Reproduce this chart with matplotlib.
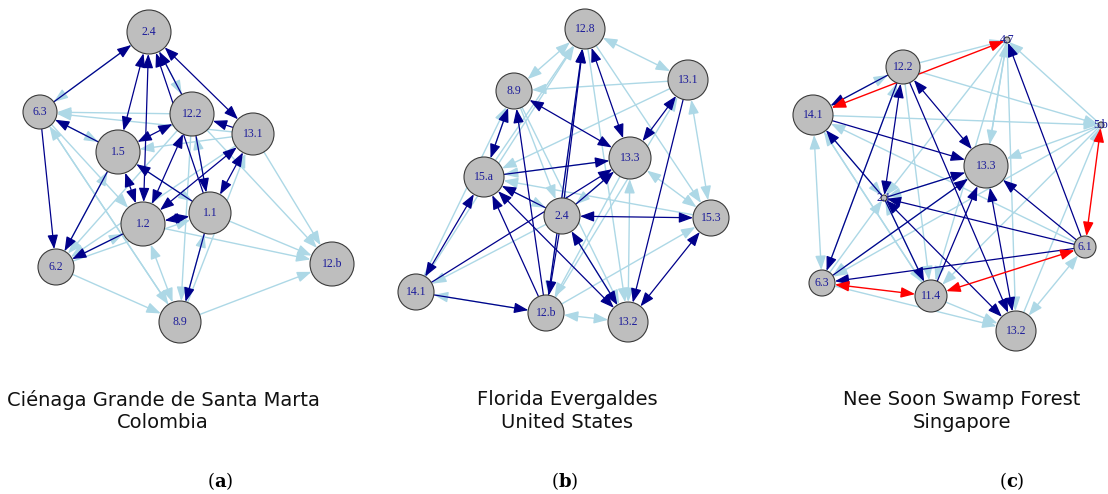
import numpy as np
import matplotlib.pyplot as plt
from matplotlib.patches import Circle, FancyArrowPatch

plt.rcParams['mathtext.fontset'] = 'dejavuserif'

# colours used by the network plots
edge_colors = {'d': '#00008B', 'l': '#ADD8E6', 'r': '#FF0000'}
node_fill = '#BEBEBE'
label_color = '#1C1C9A'

# ---- panel (a): Ciénaga Grande de Santa Marta ----
nodes_a = ['2.4', '6.3', '12.2', '13.1', '1.5', '1.2', '1.1', '6.2', '12.b', '8.9']
layout_a = {'2.4': (149, 32), '6.3': (40, 112), '12.2': (192, 114), '13.1': (253, 134),
            '1.5': (118, 152), '1.2': (143, 224), '1.1': (210, 213), '6.2': (56, 267),
            '12.b': (332, 264), '8.9': (180, 322)}
size_a = {'2.4': 22, '6.3': 17, '12.2': 22, '13.1': 21, '1.5': 22, '1.2': 22,
          '1.1': 21, '6.2': 18, '12.b': 22, '8.9': 21}
# (from, to, kind, both ways)
edges_a = [
    ('2.4', '6.3', 'l', False), ('12.2', '6.3', 'l', False), ('13.1', '6.3', 'l', False),
    ('6.3', '1.5', 'l', False), ('13.1', '1.5', 'l', False), ('6.3', '8.9', 'l', False),
    ('8.9', '6.3', 'l', False), ('6.2', '1.5', 'l', False), ('6.2', '1.2', 'l', False),
    ('6.2', '1.1', 'l', False), ('12.2', '6.2', 'l', False), ('13.1', '6.2', 'l', False),
    ('6.2', '8.9', 'l', False), ('8.9', '12.b', 'l', False), ('1.2', '12.b', 'l', False),
    ('1.1', '12.b', 'l', False), ('12.2', '12.b', 'l', False), ('13.1', '12.b', 'l', False),
    ('8.9', '1.2', 'l', True), ('8.9', '1.1', 'l', False), ('12.2', '8.9', 'l', False),
    ('8.9', '13.1', 'l', False), ('1.1', '12.2', 'l', False), ('1.5', '1.1', 'l', False),
    ('2.4', '12.2', 'l', False), ('6.3', '1.2', 'l', False),
    ('6.3', '2.4', 'd', False), ('1.5', '2.4', 'd', True), ('1.2', '2.4', 'd', True),
    ('12.2', '2.4', 'd', False), ('1.1', '2.4', 'd', False), ('2.4', '13.1', 'd', True),
    ('6.3', '6.2', 'd', False), ('1.5', '12.2', 'd', True), ('1.5', '1.2', 'd', True),
    ('12.2', '1.2', 'd', True), ('12.2', '1.1', 'd', False), ('13.1', '1.2', 'd', True),
    ('13.1', '1.1', 'd', True), ('1.1', '1.5', 'd', False), ('1.1', '1.2', 'd', True),
    ('13.1', '12.2', 'd', False), ('1.5', '6.3', 'd', False), ('1.1', '8.9', 'd', False),
    ('1.2', '6.2', 'd', False), ('1.5', '6.2', 'd', False),
]

# ---- panel (b): Florida Everglades ----
nodes_b = ['12.8', '13.1', '8.9', '13.3', '15.a', '2.4', '15.3', '14.1', '12.b', '13.2']
layout_b = {'12.8': (215, 29), '13.1': (318, 80), '8.9': (144, 91), '13.3': (260, 158),
            '15.a': (114, 177), '2.4': (192, 216), '15.3': (341, 218), '14.1': (46, 292),
            '12.b': (176, 313), '13.2': (258, 322)}
size_b = {'12.8': 20, '13.1': 20, '8.9': 18, '13.3': 21, '15.a': 20, '2.4': 18,
          '15.3': 18, '14.1': 18, '12.b': 18, '13.2': 20}
edges_b = [
    ('8.9', '12.8', 'l', True), ('13.1', '12.8', 'l', True), ('13.1', '8.9', 'l', False),
    ('13.1', '15.a', 'l', False), ('15.a', '12.8', 'l', False), ('14.1', '12.8', 'l', False),
    ('12.8', '15.3', 'l', False), ('12.8', '13.2', 'l', False), ('15.a', '8.9', 'l', False),
    ('14.1', '8.9', 'l', False), ('8.9', '2.4', 'l', False), ('8.9', '13.2', 'l', False),
    ('15.3', '13.1', 'l', True), ('13.3', '15.3', 'l', True), ('15.3', '15.a', 'l', False),
    ('13.3', '13.2', 'l', True), ('13.3', '12.b', 'l', False), ('2.4', '14.1', 'l', False),
    ('13.2', '12.b', 'l', True), ('13.3', '15.a', 'l', False), ('13.2', '2.4', 'l', False),
    ('12.b', '15.3', 'l', False), ('15.a', '2.4', 'l', False), ('13.3', '2.4', 'l', False),
    ('12.b', '13.1', 'l', False), ('12.8', '12.b', 'l', False), ('12.b', '14.1', 'l', False),
    ('2.4', '12.8', 'd', False), ('12.b', '12.8', 'd', False), ('12.8', '13.3', 'd', True),
    ('8.9', '13.3', 'd', True), ('8.9', '15.a', 'd', True), ('13.3', '13.1', 'd', True),
    ('15.a', '13.3', 'd', False), ('2.4', '13.3', 'd', False), ('14.1', '13.3', 'd', False),
    ('2.4', '15.3', 'd', True), ('2.4', '15.a', 'd', False), ('14.1', '15.a', 'd', True),
    ('14.1', '12.b', 'd', False), ('12.b', '15.a', 'd', False), ('15.a', '13.2', 'd', True),
    ('2.4', '13.2', 'd', True), ('13.1', '13.2', 'd', False), ('15.3', '13.2', 'd', True),
    ('2.4', '12.b', 'd', False), ('12.b', '8.9', 'd', False),
]

# ---- panel (c): Nee Soon Swamp Forest ----
nodes_c = ['4.7', '12.2', '14.1', '5.b', '13.3', '2.1', '6.1', '6.3', '11.4', '13.2']
layout_c = {'4.7': (267, 40), '12.2': (163, 67), '14.1': (73, 115), '5.b': (361, 125),
            '13.3': (246, 166), '2.1': (144, 198), '6.1': (345, 247), '6.3': (82, 283),
            '11.4': (191, 296), '13.2': (276, 331)}
size_c = {'4.7': 3, '12.2': 17, '14.1': 20, '5.b': 3, '13.3': 22, '2.1': 3,
          '6.1': 11, '6.3': 13, '11.4': 16, '13.2': 20}
edges_c = [
    ('12.2', '4.7', 'l', False), ('12.2', '5.b', 'l', False), ('14.1', '5.b', 'l', False),
    ('13.3', '4.7', 'l', False), ('4.7', '13.3', 'l', False), ('4.7', '2.1', 'l', False),
    ('5.b', '4.7', 'l', False), ('4.7', '13.2', 'l', False), ('4.7', '11.4', 'l', False),
    ('5.b', '13.3', 'l', False), ('5.b', '6.3', 'l', False), ('5.b', '11.4', 'l', False),
    ('14.1', '6.3', 'l', True), ('14.1', '11.4', 'l', False), ('6.1', '14.1', 'l', False),
    ('14.1', '2.1', 'l', False), ('12.2', '11.4', 'l', False), ('6.3', '12.2', 'l', False),
    ('6.3', '2.1', 'l', False), ('13.3', '2.1', 'l', False), ('11.4', '14.1', 'l', False),
    ('6.3', '13.2', 'l', False), ('11.4', '13.2', 'l', False), ('13.2', '6.1', 'l', True),
    ('13.3', '6.3', 'l', False), ('11.4', '2.1', 'l', False), ('13.2', '5.b', 'l', False),
    ('14.1', '12.2', 'l', False),
    ('12.2', '14.1', 'd', False), ('12.2', '13.3', 'd', True), ('12.2', '13.2', 'd', False),
    ('12.2', '2.1', 'd', True), ('14.1', '13.3', 'd', False), ('2.1', '14.1', 'd', False),
    ('2.1', '13.3', 'd', False), ('6.3', '13.3', 'd', False), ('11.4', '13.3', 'd', False),
    ('13.2', '13.3', 'd', True), ('6.1', '13.3', 'd', False), ('6.1', '4.7', 'd', False),
    ('2.1', '13.2', 'd', True), ('2.1', '11.4', 'd', False), ('6.1', '6.3', 'd', False),
    ('12.2', '6.3', 'd', False), ('6.1', '2.1', 'd', False),
    ('14.1', '4.7', 'r', True), ('5.b', '6.1', 'r', True), ('6.3', '11.4', 'r', True),
    ('11.4', '6.1', 'r', True),
]

titles = ['Ciénaga Grande de Santa Marta\nColombia',
          'Florida Evergaldes\nUnited States',
          'Nee Soon Swamp Forest\nSingapore']
tags = ['a', 'b', 'c']

W, H = 1108, 494


def draw_network(ax, nodes, layout, size, edges):
    order = {'l': 0, 'd': 1, 'r': 2}
    for src, dst, kind, both in sorted(edges, key=lambda e: order[e[2]]):
        p = np.array(layout[src], float)
        q = np.array(layout[dst], float)
        u = (q - p) / np.hypot(*(q - p))
        a = p + u * size[src]
        b = q - u * size[dst]
        style = '<|-|>' if both else '-|>'
        lw = 0.9 if kind == 'd' else 1.0
        arr = FancyArrowPatch(a, b, arrowstyle=f'{style},head_length=8.5,head_width=3.2',
                              mutation_scale=1, color=edge_colors[kind], lw=lw,
                              shrinkA=0, shrinkB=0, zorder=1 + order[kind], clip_on=False)
        ax.add_patch(arr)
    for n in nodes:
        ax.add_patch(Circle(layout[n], size[n], facecolor=node_fill, edgecolor='#3a3a3a',
                            lw=0.8, zorder=5, clip_on=False))
        ax.text(layout[n][0], layout[n][1], n, ha='center', va='center', fontsize=8.5,
                family='Liberation Serif', color=label_color, zorder=6, clip_on=False)


fig = plt.figure(figsize=(W / 100, H / 100), dpi=100)

panels = [(0, 370, nodes_a, layout_a, size_a, edges_a),
          (370, 370, nodes_b, layout_b, size_b, edges_b),
          (740, 368, nodes_c, layout_c, size_c, edges_c)]
for ox, pw, nodes, layout, size, edges in panels:
    ax = fig.add_axes([ox / W, 1 - 350 / H, pw / W, 350 / H])
    ax.set_xlim(0, pw)
    ax.set_ylim(350, 0)
    ax.axis('off')
    draw_network(ax, nodes, layout, size, edges)

title_x = [163, 567, 962]
tag_x = [220, 565, 1012]
for tx, gx, title, tag in zip(title_x, tag_x, titles, tags):
    fig.text(tx / W, 1 - 411 / H, title, ha='center', va='center', fontsize=14,
             family='DejaVu Sans', color='#111111', linespacing=1.25)
    fig.text(gx / W, 1 - 481 / H, rf'($\mathbf{{{tag}}}$)', ha='center', va='center',
             fontsize=13, family='DejaVu Serif', color='black')

fig.savefig('out.png', dpi=100)
